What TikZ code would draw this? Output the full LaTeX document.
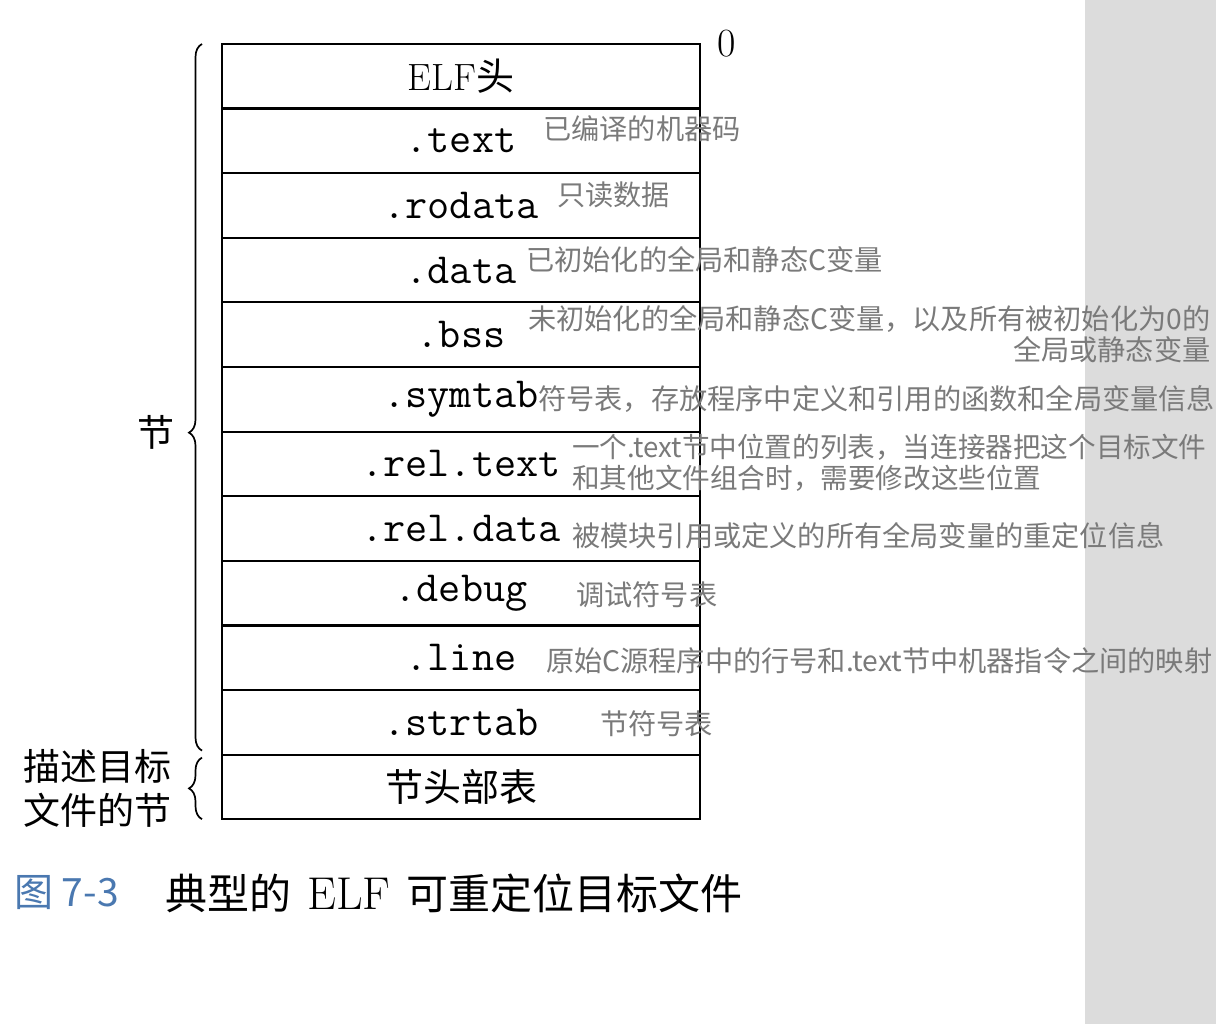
\documentclass[tikz,border=0pt]{standalone}
\usepackage{fontspec}
\newfontfamily\cjk{Noto Sans CJK SC}
\usepackage{xcolor}
\usepackage{tikz}
\usetikzlibrary{positioning,decorations.pathreplacing}
\definecolor{notegray}{HTML}{7A7A7A}
\definecolor{bandgray}{HTML}{DCDCDC}
\definecolor{capblue}{HTML}{4A78B0}

\begin{document}
\begin{tikzpicture}[
  x=1pt,y=-1pt,
  node distance=0pt,
  sec/.style={draw,line width=2.2pt,minimum width=478pt,minimum height=64.6pt,inner sep=0pt,outer sep=0pt,font=\fontsize{43}{43}\selectfont\ttfamily},
  head/.style={sec,font=\fontsize{38}{38}\selectfont},
  note/.style={anchor=west,inner sep=0pt,text=notegray,font=\fontsize{28.2}{31}\selectfont\cjk},
  side/.style={inner sep=0pt,font=\fontsize{37}{44}\selectfont\cjk},
  brc/.style={decorate,decoration={brace,amplitude=13pt,aspect=#1},line width=1.7pt},
  brc/.default=0.5]
\useasboundingbox (0,0) rectangle (1216,1024);
\fill[white] (0,0) rectangle (1216,1024);
\fill[bandgray] (1085,0) rectangle (1216,1024);
% the sections of the object file
\node[head,anchor=north west] (elf) at (222,44) {ELF{\cjk 头}};
\node[sec,below=of elf] (text) {.text};
\node[sec,below=of text] (rodata) {.rodata};
\node[sec,below=of rodata] (data) {.data};
\node[sec,below=of data] (bss) {.bss};
\node[sec,below=of bss] (symtab) {.symtab};
\node[sec,below=of symtab] (reltext) {.rel.text};
\node[sec,below=of reltext] (reldata) {.rel.data};
\node[sec,below=of reldata] (debug) {.debug};
\node[sec,below=of debug] (line) {.line};
\node[sec,below=of line] (strtab) {.strtab};
\node[head,below=of strtab] (shdr) {\cjk 节头部表};
\node[font=\fontsize{40}{40}\selectfont,right=14pt of elf.north east] (zero) {0};
% braces on the left
\draw[brc=0.45] ([xshift=-20pt,yshift=4pt]strtab.south west) -- ([xshift=-20pt]elf.north west) coordinate[pos=0.45] (sectip);
\draw[brc] ([xshift=-20pt]shdr.south west) -- ([xshift=-20pt,yshift=-3pt]shdr.north west) coordinate[midway] (hdrtip);
\node[side,anchor=east] (seclbl) at ([xshift=-27pt]sectip) {节};
\node[side,anchor=east,align=center] (hdrlbl) at ([xshift=-30pt]hdrtip) {描述目标\\文件的节};
% notes
\node[note] (ntext) at (543,129) {已编译的机器码};
\node[note] (nrodata) at (557,195) {只读数据};
\node[note] (ndata) at (526,260) {已初始化的全局和静态C变量};
\node[note,anchor=north west,align=right] (nbss) at (528,305) {未初始化的全局和静态C变量，以及所有被初始化为0的\\全局或静态变量};
\node[note] (nsymtab) at (538,399) {符号表，存放程序中定义和引用的函数和全局变量信息};
\node[note,anchor=north west,align=left,font=\fontsize{27.6}{31}\selectfont\cjk] (nreltext) at (572,434) {一个.text节中位置的列表，当连接器把这个目标文件\\和其他文件组合时，需要修改这些位置};
\node[note] (nreldata) at (572,536) {被模块引用或定义的所有全局变量的重定位信息};
\node[note] (ndebug) at (576,595) {调试符号表};
\node[note] (nline) at (546,661) {原始C源程序中的行号和.text节中机器指令之间的映射};
\node[note] (nstrtab) at (600,724) {节符号表};
% caption
\node[anchor=west,inner sep=0pt,text=capblue,font=\fontsize{39}{39}\selectfont\cjk] (fignum) at (14,893) {图 7-3};
\node[anchor=west,inner sep=0pt,font=\fontsize{42}{42}\selectfont] (figcap) at (165,893) {{\cjk 典型的}\hspace{16pt}{\fontsize{46}{46}\selectfont ELF}\hspace{16pt}{\cjk 可重定位目标文件}};
\end{tikzpicture}
\end{document}
